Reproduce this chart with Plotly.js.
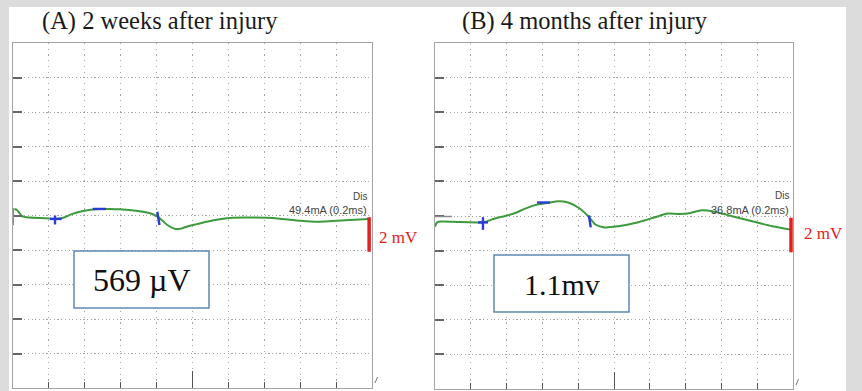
<!DOCTYPE html>
<html>
<head>
<meta charset="utf-8">
<script src="https://cdn.plot.ly/plotly-3.0.1.min.js"></script>
<style>html,body{margin:0;padding:0;background:#dcdcdc;}#chart{width:862px;height:391px;}</style>
</head>
<body>
<div id="chart"></div>
<script>
// ---- Data (time in ms, amplitude in mV; 5 ms/div, 2 mV/div) ----
const titles = ["(A) 2 weeks after injury", "(B) 4 months after injury"];
const amplitudeLabels = ["569 µV", "1.1mv"];
const stimLabels = ["49.4mA (0.2ms)", "36.8mA (0.2ms)"];
const scaleLabel = "2 mV";

const timeA = [0.2, 0.55, 1.25, 2.4, 4.5, 5.85, 7.0, 8.2, 9.3, 10.8, 12.1, 13.5, 14.9, 16.5, 18.1, 19.3, 20.1, 20.9, 21.5, 22.6, 23.4, 24.2, 25.6, 27.0, 28.8, 30.6, 33.0, 35.4, 37.5, 40.0, 42.3, 44.5, 46.9, 49.5];
const ampA  = [0.38, 0.32, -0.03, -0.12, -0.16, -0.20, -0.13, 0.08, 0.22, 0.33, 0.38, 0.38, 0.36, 0.31, 0.22, 0.10, -0.07, -0.33, -0.55, -0.78, -0.76, -0.65, -0.50, -0.36, -0.22, -0.13, -0.12, -0.13, -0.20, -0.30, -0.36, -0.32, -0.26, -0.20];

const timeB = [0, 0.3, 1.0, 3.5, 6.0, 6.7, 8.4, 9.8, 11.2, 12.6, 14.3, 16.1, 17.2, 18.6, 20.0, 21.4, 22.4, 23.7, 25.6, 28.4, 31.2, 32.5, 34.0, 35.3, 37.3, 38.7, 41.5, 44.3, 47.1, 49.6];
const ampB  = [-0.61, -0.37, -0.32, -0.35, -0.37, -0.37, -0.14, 0.0, 0.17, 0.43, 0.66, 0.78, 0.85, 0.78, 0.49, -0.01, -0.49, -0.66, -0.59, -0.36, -0.01, 0.14, 0.12, 0.14, 0.33, 0.28, -0.01, -0.30, -0.59, -0.78];

// latency / peak cursors (null separates segments)
const cursorA_x = [5.15, 6.78, null, 5.85, 5.85, null, 11.1, 12.95, null, 20.1, 20.4];
const cursorA_y = [-0.20, -0.20, null, 0.0, -0.52, null, 0.38, 0.38, null, 0.22, -0.55];
const cursorB_x = [6.0, 7.4, null, 6.7, 6.7, null, 14.25, 16.06, null, 21.5, 21.75];
const cursorB_y = [-0.37, -0.37, null, -0.07, -0.80, null, 0.78, 0.78, null, 0.03, -0.66];

// stimulus artifact
const artA_x = [0, 0];
const artA_y = [-0.55, 0.43];
const artB_x = [-0.84, -0.28, -0.28, 2.37];
const artB_y = [0.49, 0.49, -0.03, -0.03];

// 2 mV calibration bars
const scaleA_x = [49.6, 49.6];
const scaleB_x = [49.72, 49.72];
const scale_y = [-0.1, -2.1];

const xTicks = [5, 10, 15, 20, 25, 30, 35, 40, 45];
const yTicks = [-8, -6, -4, -2, 0, 2, 4, 6, 8];

// ---- Layout helpers ----
const W = 862, H = 391;
const px = v => v / W;
const py = v => 1 - v / H;

const green = '#3d9a3d', blue = '#2a3cd4', red = '#e3211c';

function xAx(dom) {
  return {domain: dom, range: [0, 50], tickvals: xTicks, ticks: 'inside', ticklen: 6, tickwidth: 1, tickcolor: '#555',
    showticklabels: false, showgrid: true, gridcolor: '#a6a6a6', griddash: '1.2px,4.5px', gridwidth: 1,
    showline: true, mirror: true, linecolor: '#a3a3a3', linewidth: 1, zeroline: false, fixedrange: true};
}
function yAx(dom, anchor) {
  return {domain: dom, anchor: anchor, range: [-10, 10], tickvals: yTicks, ticks: 'inside', ticklen: 9, tickwidth: 2, tickcolor: '#666',
    showticklabels: false, showgrid: true, gridcolor: '#a6a6a6', griddash: '1.2px,2.5px', gridwidth: 1,
    showline: true, mirror: true, linecolor: '#a3a3a3', linewidth: 1, zeroline: false, fixedrange: true};
}
function midAx(over, anchor, dom) {
  return {overlaying: over, anchor: anchor, domain: dom, range: [0, 50], tickvals: [25], ticks: 'inside', ticklen: 17,
    tickwidth: 1, tickcolor: '#555', showticklabels: false, showgrid: false, showline: false, zeroline: false, fixedrange: true};
}

const domAx = [px(13), px(372)], domAy = [1 - 388 / H, py(43)];
const domBx = [px(435), px(793)], domBy = [1 - 389 / H, py(43)];

const traces = [
  {x: timeA, y: ampA, xaxis: 'x', yaxis: 'y', mode: 'lines', line: {color: green, width: 2, shape: 'spline', smoothing: 0.8}, hoverinfo: 'skip'},
  {x: cursorA_x, y: cursorA_y, xaxis: 'x', yaxis: 'y', mode: 'lines', line: {color: blue, width: 2.4}, connectgaps: false, hoverinfo: 'skip'},
  {x: scaleA_x, y: scale_y, xaxis: 'x', yaxis: 'y', mode: 'lines', line: {color: red, width: 3.5}, hoverinfo: 'skip'},
  {x: timeB, y: ampB, xaxis: 'x2', yaxis: 'y2', mode: 'lines', line: {color: green, width: 2, shape: 'spline', smoothing: 0.8}, hoverinfo: 'skip'},
  {x: cursorB_x, y: cursorB_y, xaxis: 'x2', yaxis: 'y2', mode: 'lines', line: {color: blue, width: 2.4}, connectgaps: false, hoverinfo: 'skip'},
  {x: scaleB_x, y: scale_y, xaxis: 'x2', yaxis: 'y2', mode: 'lines', line: {color: red, width: 3.5}, hoverinfo: 'skip'},
  {x: [0], y: [0], xaxis: 'x3', yaxis: 'y', mode: 'none', hoverinfo: 'skip'},
  {x: [0], y: [0], xaxis: 'x4', yaxis: 'y2', mode: 'none', hoverinfo: 'skip'}
];

function pathFrom(xs, ys) {
  return xs.map((v, i) => (i ? 'L' : 'M') + v + ',' + ys[i]).join(' ');
}

const shapes = [
  {type: 'rect', xref: 'paper', yref: 'paper', x0: px(9), x1: px(846), y0: 0, y1: py(7), fillcolor: '#ffffff', line: {width: 0}, layer: 'below'},
  {type: 'path', xref: 'x', yref: 'y', path: pathFrom(artA_x, artA_y), line: {color: '#8a8a8a', width: 2}},
  {type: 'path', xref: 'x2', yref: 'y2', path: pathFrom(artB_x, artB_y), line: {color: '#8a8a8a', width: 1.5}},
  {type: 'rect', xref: 'paper', yref: 'paper', x0: px(74), x1: px(209), y0: py(308), y1: py(251), fillcolor: '#ffffff', line: {color: '#6088b2', width: 1.5}, layer: 'above'},
  {type: 'rect', xref: 'paper', yref: 'paper', x0: px(494), x1: px(629), y0: py(312), y1: py(255), fillcolor: '#ffffff', line: {color: '#6088b2', width: 1.5}, layer: 'above'},
  {type: 'line', xref: 'paper', yref: 'paper', x0: px(375), x1: px(377.5), y0: py(383), y1: py(377), line: {color: '#777', width: 1}},
  {type: 'line', xref: 'paper', yref: 'paper', x0: px(796), x1: px(798.5), y0: py(385), y1: py(379), line: {color: '#777', width: 1}}
];

const serif = 'Liberation Serif, Times New Roman, serif';
const sans = 'Liberation Sans, Arial, sans-serif';
function ann(text, x, y, opts) {
  return Object.assign({text: text, xref: 'paper', yref: 'paper', x: px(x), y: py(y), showarrow: false, xanchor: 'left', yanchor: 'middle'}, opts);
}
const annotations = [
  ann(titles[0], 40, 21, {font: {family: serif, size: 24.5, color: '#1a1a1a'}}),
  ann(titles[1], 460, 21, {font: {family: serif, size: 24.5, color: '#1a1a1a'}}),
  ann(amplitudeLabels[0], 141.5, 280, {xanchor: 'center', font: {family: serif, size: 32, color: '#111'}}),
  ann(amplitudeLabels[1], 561.5, 284, {xanchor: 'center', font: {family: serif, size: 30, color: '#111'}}),
  ann(scaleLabel, 377, 237, {font: {family: serif, size: 17, color: red}}),
  ann(scaleLabel, 802, 233, {font: {family: serif, size: 17, color: red}}),
  ann('Dis', 369, 196, {xanchor: 'right', font: {family: sans, size: 10, color: '#444'}}),
  ann(stimLabels[0], 369, 210, {xanchor: 'right', font: {family: sans, size: 11, color: '#444'}}),
  ann('Dis', 791, 195, {xanchor: 'right', font: {family: sans, size: 10, color: '#444'}}),
  ann(stimLabels[1], 791, 210, {xanchor: 'right', font: {family: sans, size: 11, color: '#444'}})
];

const layout = {
  width: W, height: H, margin: {l: 0, r: 0, t: 0, b: 0, pad: 0},
  paper_bgcolor: '#dcdcdc', plot_bgcolor: '#ffffff', showlegend: false,
  xaxis: xAx(domAx), yaxis: yAx(domAy, 'x'),
  xaxis2: Object.assign(xAx(domBx), {anchor: 'y2'}), yaxis2: yAx(domBy, 'x2'),
  xaxis3: midAx('x', 'y', domAx), xaxis4: midAx('x2', 'y2', domBx),
  shapes: shapes, annotations: annotations
};
layout.xaxis.anchor = 'y';

Plotly.newPlot('chart', traces, layout, {staticPlot: true, displayModeBar: false});
</script>
</body>
</html>
